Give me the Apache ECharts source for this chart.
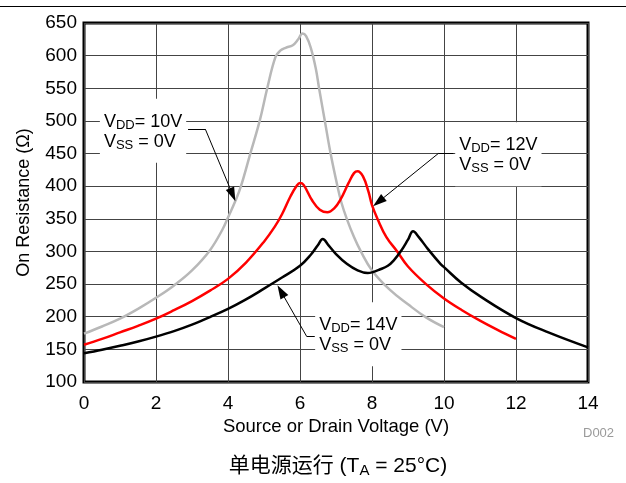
<!DOCTYPE html>
<html><head><meta charset="utf-8">
<script src="https://cdn.jsdelivr.net/npm/echarts@6/dist/echarts.min.js"></script>
<style>html,body{margin:0;padding:0;background:#fff}#c{width:626px;height:483px}</style>
</head><body><div id="c"></div>
<script>
const FONT = '"Liberation Sans", Arial, Helvetica, sans-serif';
const CJK = '"Liberation Sans", "Noto Sans CJK SC", sans-serif';

// Source or Drain Voltage (V) and On Resistance (Ohm) per curve
const vdd10V = [0, 0.5, 1, 1.5, 2, 2.5, 3, 3.5, 3.85, 4.0, 4.21, 4.36, 4.62, 4.88, 5.09, 5.32, 5.46, 5.6, 5.8, 5.95, 6.07, 6.17, 6.3, 6.44, 6.53, 6.69, 6.85, 7.04, 7.15, 7.3, 7.5, 7.69, 8.0, 8.5, 9.0, 9.5, 10];
const vdd10R = [174, 185, 197, 212, 229, 248, 271, 302, 334, 352, 378, 400, 450, 500, 550, 598, 608, 612, 616, 625, 634, 630, 612, 580, 550, 500, 450, 400, 375, 350, 322, 300, 271, 241, 219, 199, 184];

const vdd12V = [0, 0.5, 1, 1.5, 2, 2.5, 3, 3.5, 4, 4.5, 5.0, 5.3, 5.5, 5.74, 5.9, 6.0, 6.1, 6.34, 6.55, 6.76, 6.95, 7.13, 7.35, 7.5, 7.6, 7.75, 7.9, 8.0, 8.16, 8.4, 8.7, 9.0, 9.5, 10, 10.5, 11, 11.5, 12];
const vdd12R = [157, 166, 176, 186, 197, 210, 224, 240, 258, 283, 315, 338, 357, 385, 400, 405, 402, 378, 364, 360, 366, 380, 405, 420, 423, 415, 392, 371, 349, 322, 300, 277, 250, 228, 210, 194, 179.5, 166];

const vdd14V = [0, 0.5, 1, 1.5, 2, 2.5, 3, 3.5, 4, 4.45, 5.0, 5.5, 6.0, 6.3, 6.5, 6.63, 6.8, 7.0, 7.3, 7.6, 7.88, 8.0, 8.2, 8.44, 8.6, 8.81, 9.0, 9.14, 9.3, 9.55, 9.9, 10.0, 10.48, 11.04, 12, 12.9, 14];
const vdd14R = [144, 149.5, 155.5, 162, 169.5, 178, 188, 199.5, 212, 225, 243, 260, 278, 295, 310, 319, 309, 296, 281, 271, 267, 268, 272, 278, 286, 301, 318, 331, 322, 304, 281, 276, 252, 230, 198, 176, 153];

// annotation anchors, in data units
const ann10Text = ['V', 'DD', '= 10V', 'V', 'SS', ' = 0V'];
const ann10At = [1.64, 485];
const ann10Leader = [[2.89, 487.4], [3.37, 487.4], [4.13, 387]];
const ann12Text = ['V', 'DD', '= 12V', 'V', 'SS', ' = 0V'];
const ann12At = [11.51, 449];
const ann12Leader = [[10.26, 450], [9.84, 450], [8.18, 376]];
const ann14Text = ['V', 'DD', '= 14V', 'V', 'SS', ' = 0V'];
const ann14At = [7.62, 173];
const ann14Leader = [[6.41, 170.4], [6.18, 170.4], [5.47, 239]];

const zip = (a, b) => a.map((v, i) => [v, b[i]]);

const rich = {
  a: {fontSize: 18, fontFamily: FONT, color: '#000', lineHeight: 20, align: 'left'},
  s: {fontSize: 13, fontFamily: FONT, color: '#000', lineHeight: 10, verticalAlign: 'bottom', align: 'left'}
};
function annText(t) {
  return '{a|' + t[0] + '}{s|' + t[1] + '}{a|' + t[2] + '}\n{a|' + t[3] + '}{s|' + t[4] + '}{a|' + t[5] + '}';
}
function annMarkPoint(at, t) {
  return {
    silent: true, animation: false,
    symbol: 'circle', symbolSize: 0,
    label: {show: true, position: 'inside', formatter: annText(t), rich: rich,
      backgroundColor: '#fff', padding: [13, 4, 11, 4]},
    data: [{coord: at}]
  };
}
function annMarkLine(pts) {
  return {
    silent: true, animation: false,
    symbolSize: [9, 14],
    lineStyle: {color: '#000', width: 1, type: 'solid'},
    label: {show: false},
    emphasis: {disabled: true},
    data: [
      [{coord: pts[0], symbol: 'none'}, {coord: pts[1], symbol: 'none'}],
      [{coord: pts[1], symbol: 'none'}, {coord: pts[2], symbol: 'triangle'}]
    ]
  };
}

const chart = echarts.init(document.getElementById('c'), null, {renderer: 'canvas'});
chart.setOption({
  animation: false,
  backgroundColor: '#fff',
  grid: {left: 84, right: 38, top: 23, bottom: 101, show: true, borderColor: '#000', borderWidth: 3, backgroundColor: 'transparent'},
  xAxis: {
    type: 'value', min: 0, max: 14, interval: 2,
    name: 'Source or Drain Voltage (V)', nameLocation: 'middle', nameGap: 33,
    nameTextStyle: {fontSize: 18.5, fontFamily: FONT, color: '#000'},
    axisLine: {show: false}, axisTick: {show: false},
    axisLabel: {fontSize: 19, fontFamily: FONT, color: '#000', margin: 12},
    splitLine: {show: true, lineStyle: {color: '#444', width: 1}}
  },
  yAxis: {
    type: 'value', min: 100, max: 650, interval: 50,
    name: 'On Resistance (Ω)', nameLocation: 'middle', nameGap: 51,
    nameTextStyle: {fontSize: 18, fontFamily: FONT, color: '#000'},
    axisLine: {show: false}, axisTick: {show: false},
    axisLabel: {fontSize: 19, fontFamily: FONT, color: '#000', margin: 7},
    splitLine: {show: true, lineStyle: {color: '#444', width: 1}}
  },
  series: [
    {type: 'line', name: 'VDD=10V', data: zip(vdd10V, vdd10R), showSymbol: false, smooth: 0.4,
     lineStyle: {color: '#b8b8b8', width: 2.5}, itemStyle: {color: '#b8b8b8'}, z: 2,
     markLine: annMarkLine(ann10Leader), markPoint: annMarkPoint(ann10At, ann10Text)},
    {type: 'line', name: 'VDD=12V', data: zip(vdd12V, vdd12R), showSymbol: false, smooth: 0.4,
     lineStyle: {color: '#ff0000', width: 2.5}, itemStyle: {color: '#ff0000'}, z: 3,
     markLine: annMarkLine(ann12Leader), markPoint: annMarkPoint(ann12At, ann12Text)},
    {type: 'line', name: 'VDD=14V', data: zip(vdd14V, vdd14R), showSymbol: false, smooth: 0.4,
     lineStyle: {color: '#000000', width: 2.5}, itemStyle: {color: '#000'}, z: 4,
     markLine: annMarkLine(ann14Leader), markPoint: annMarkPoint(ann14At, ann14Text)}
  ],
  graphic: [
    {type: 'line', shape: {x1: 0, y1: 6.5, x2: 626, y2: 6.5}, style: {stroke: '#000', lineWidth: 1}, silent: true},
    {type: 'text', left: 583, top: 427, style: {text: 'D002', fontSize: 13, fontFamily: FONT, fill: '#9a9a9a'}, silent: true},
    {type: 'text', x: 338, y: 466, silent: true,
     style: {text: '{c|单电源运行 (T}{d|A}{c| = 25°C)}', align: 'center', verticalAlign: 'middle',
       rich: {c: {fontSize: 21, fontFamily: CJK, fill: '#000', lineHeight: 24},
              d: {fontSize: 15, fontFamily: FONT, fill: '#000', lineHeight: 12, verticalAlign: 'bottom'}}}}
  ]
});
</script>
</body></html>
